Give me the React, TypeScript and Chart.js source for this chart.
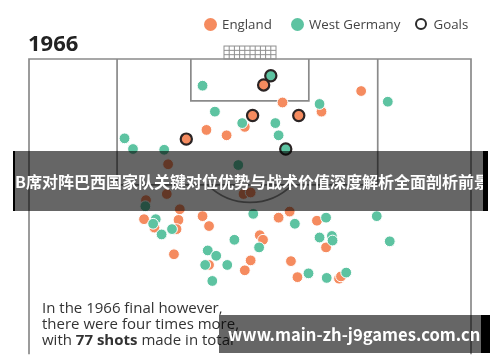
import React, { useEffect, useRef } from "react";
import { Chart, registerables } from "chart.js";

Chart.register(...registerables);

// Pitch coordinates in metres: x across the pitch (0-68), y distance from the goal line.
const PITCH_WIDTH = 68;
const VISIBLE_DEPTH = 38.7;

const englandShots = [
  { x: 33.2, y: 8.9 }, { x: 27.3, y: 9.3 }, { x: 30.4, y: 10.0 }, { x: 51.1, y: 4.2 },
  { x: 39.0, y: 5.7 }, { x: 45.0, y: 6.9 }, { x: 21.4, y: 13.8 }, { x: 21.2, y: 17.7 },
  { x: 33.0, y: 17.7 }, { x: 34.1, y: 17.5 }, { x: 18.0, y: 18.5 }, { x: 23.2, y: 19.7 },
  { x: 26.7, y: 20.6 }, { x: 17.7, y: 21.0 }, { x: 23.0, y: 21.1 }, { x: 19.3, y: 22.1 },
  { x: 27.7, y: 21.9 }, { x: 22.7, y: 22.3 }, { x: 22.3, y: 25.6 }, { x: 27.7, y: 27.0 },
  { x: 33.2, y: 27.7 }, { x: 34.1, y: 26.4 }, { x: 35.5, y: 23.1 }, { x: 36.0, y: 23.7 },
  { x: 38.4, y: 20.8 }, { x: 40.1, y: 20.0 }, { x: 44.3, y: 21.2 }, { x: 45.7, y: 24.7 },
  { x: 40.3, y: 26.5 }, { x: 41.3, y: 28.6 }, { x: 47.7, y: 28.8 }, { x: 48.0, y: 28.5 },
];

const germanyShots = [
  { x: 26.7, y: 3.5 }, { x: 28.6, y: 6.9 }, { x: 32.8, y: 8.4 }, { x: 14.7, y: 10.4 },
  { x: 16.0, y: 11.8 }, { x: 20.8, y: 11.9 }, { x: 55.2, y: 5.6 }, { x: 44.7, y: 5.9 },
  { x: 37.9, y: 8.4 }, { x: 38.4, y: 10.0 }, { x: 32.2, y: 13.9 }, { x: 17.9, y: 19.3 },
  { x: 19.5, y: 21.0 }, { x: 19.1, y: 21.6 }, { x: 20.4, y: 23.0 }, { x: 22.0, y: 22.3 },
  { x: 31.6, y: 23.7 }, { x: 27.5, y: 25.1 }, { x: 28.8, y: 25.8 }, { x: 27.1, y: 27.0 },
  { x: 30.5, y: 27.0 }, { x: 28.2, y: 29.1 }, { x: 34.5, y: 20.3 }, { x: 40.9, y: 21.6 },
  { x: 45.7, y: 20.8 }, { x: 53.5, y: 20.6 }, { x: 55.5, y: 23.9 }, { x: 35.4, y: 24.7 },
  { x: 44.7, y: 23.4 }, { x: 46.6, y: 23.2 }, { x: 46.7, y: 23.8 }, { x: 43.0, y: 28.1 },
  { x: 45.8, y: 28.7 }, { x: 48.8, y: 28.0 },
];

const englandGoals = [
  { x: 36.1, y: 3.4 }, { x: 34.4, y: 7.4 }, { x: 41.5, y: 7.4 }, { x: 24.2, y: 10.5 },
];

const germanyGoals = [
  { x: 37.2, y: 2.2 }, { x: 39.5, y: 11.8 },
];

const legendLabels = ["England", "West Germany", "Goals"];
const titleText = "1966";
const captionLines = ["In the 1966 final however,", "there were four times more,"];
const bannerText = "B席对阵巴西国家队关键对位优势与战术价值深度解析全面剖析前景";
const watermarkText = "www.main-zh-j9games.com.cn";

const ORANGE = "#F58B5F";
const TEAL = "#5DC3A1";
const GOAL_RING = "#2b2424";
const LINE = "#8a8a8a";

// Pitch markings (metres)
const BOX_LEFT = 13.55, BOX_RIGHT = 53.65, BOX_DEPTH = 16.5;
const SIX_LEFT = 24.9, SIX_RIGHT = 43.05, SIX_DEPTH = 5.5;
const GOAL_LEFT = 30, GOAL_RIGHT = 38, NET_DEPTH = -1.7;
const SPOT = 11, ARC_R = 9.15;

const pitchPlugin = {
  id: "pitch",
  beforeDatasetsDraw(chart: any) {
    const { ctx } = chart;
    const xs = chart.scales.x, ys = chart.scales.y;
    const px = (v: number) => xs.getPixelForValue(v);
    const py = (v: number) => ys.getPixelForValue(v);
    ctx.save();
    ctx.strokeStyle = LINE;
    ctx.lineWidth = 1.7;
    ctx.beginPath();
    ctx.moveTo(px(0), py(VISIBLE_DEPTH));
    ctx.lineTo(px(0), py(0));
    ctx.lineTo(px(PITCH_WIDTH), py(0));
    ctx.lineTo(px(PITCH_WIDTH), py(VISIBLE_DEPTH));
    ctx.stroke();

    ctx.beginPath();
    ctx.moveTo(px(BOX_LEFT), py(0));
    ctx.lineTo(px(BOX_LEFT), py(BOX_DEPTH));
    ctx.lineTo(px(BOX_RIGHT), py(BOX_DEPTH));
    ctx.lineTo(px(BOX_RIGHT), py(0));
    ctx.stroke();

    ctx.beginPath();
    ctx.moveTo(px(SIX_LEFT), py(0));
    ctx.lineTo(px(SIX_LEFT), py(SIX_DEPTH));
    ctx.lineTo(px(SIX_RIGHT), py(SIX_DEPTH));
    ctx.lineTo(px(SIX_RIGHT), py(0));
    ctx.stroke();

    const cx = px(PITCH_WIDTH / 2), cy = py(SPOT);
    const r = px(ARC_R) - px(0);
    const dy = py(BOX_DEPTH) - cy;
    if (dy < r) {
      const a = Math.asin(dy / r);
      ctx.beginPath();
      ctx.arc(cx, cy, r, a, Math.PI - a);
      ctx.stroke();
    }

    // goal net
    const gl = px(GOAL_LEFT), gr = px(GOAL_RIGHT), gt = py(NET_DEPTH), gb = py(0);
    ctx.lineWidth = 1;
    ctx.strokeStyle = "#8f8f8f";
    ctx.strokeRect(gl, gt, gr - gl, gb - gt);
    ctx.beginPath();
    const cols = 10, rows = 3;
    for (let i = 1; i < cols; i++) {
      const xx = gl + ((gr - gl) * i) / cols;
      ctx.moveTo(xx, gt);
      ctx.lineTo(xx, gb);
    }
    for (let j = 1; j < rows; j++) {
      const yy = gt + ((gb - gt) * j) / rows;
      ctx.moveTo(gl, yy);
      ctx.lineTo(gr, yy);
    }
    ctx.stroke();
    ctx.restore();
  },
};

const dot = (size: number, color: string, ring?: boolean): React.CSSProperties => ({
  position: "absolute",
  left: 0,
  top: "50%",
  marginTop: -size / 2,
  width: ring ? size - 5 : size,
  height: ring ? size - 5 : size,
  borderRadius: "50%",
  background: color,
  border: ring ? "2.5px solid #2b2b2b" : "none",
});

export default function App() {
  const canvasRef = useRef<HTMLCanvasElement | null>(null);

  useEffect(() => {
    document.body.style.margin = "0";
    const canvas = canvasRef.current;
    if (!canvas) return;
    const chart = new Chart(canvas, {
      type: "scatter",
      data: {
        datasets: [
          {
            label: "England goals",
            data: englandGoals,
            backgroundColor: ORANGE,
            borderColor: GOAL_RING,
            borderWidth: 2.2,
            pointRadius: 5.6,
            order: 0,
          },
          {
            label: "West Germany goals",
            data: germanyGoals,
            backgroundColor: TEAL,
            borderColor: GOAL_RING,
            borderWidth: 2.2,
            pointRadius: 5.6,
            order: 0,
          },
          {
            label: legendLabels[1],
            data: germanyShots,
            backgroundColor: TEAL,
            borderColor: "#ffffff",
            borderWidth: 1,
            pointRadius: 5.4,
            order: 1,
          },
          {
            label: legendLabels[0],
            data: englandShots,
            backgroundColor: ORANGE,
            borderColor: "#ffffff",
            borderWidth: 1,
            pointRadius: 5.4,
            order: 2,
          },
        ],
      },
      options: {
        responsive: false,
        animation: false,
        devicePixelRatio: 1,
        events: [],
        layout: { padding: { left: 29, right: 29, top: 59, bottom: 5 } },
        scales: {
          x: { type: "linear", min: 0, max: PITCH_WIDTH, display: false },
          y: { type: "linear", min: 0, max: VISIBLE_DEPTH, reverse: true, display: false },
        },
        plugins: { legend: { display: false }, tooltip: { enabled: false } },
      },
      plugins: [pitchPlugin],
    } as any);
    return () => chart.destroy();
  }, []);

  const legendItem = (left: number, label: string, color: string, ring?: boolean) => (
    <div
      key={label}
      style={{
        position: "absolute",
        left,
        top: 15,
        height: 18,
        paddingLeft: 18.5,
        lineHeight: "18px",
        fontSize: 13.3,
        color: "#444",
        whiteSpace: "nowrap",
      }}
    >
      <span style={dot(13, color, ring)} />
      {label}
    </div>
  );

  return (
    <div
      style={{
        position: "relative",
        width: 500,
        height: 362,
        overflow: "hidden",
        background: "#fff",
        fontFamily: "'Open Sans', 'Noto Sans', sans-serif",
      }}
    >
      <canvas ref={canvasRef} width={500} height={362} style={{ position: "absolute", left: 0, top: 0 }} />
      <div
        style={{
          position: "absolute",
          left: 28,
          top: 31,
          fontSize: 22,
          lineHeight: "22px",
          fontWeight: 700,
          color: "#222",
        }}
      >
        {titleText}
      </div>
      {legendItem(203.5, legendLabels[0], ORANGE)}
      {legendItem(290.5, legendLabels[1], TEAL)}
      {legendItem(415, legendLabels[2], "transparent", true)}
      <div
        style={{
          position: "absolute",
          left: 42,
          top: 298.7,
          fontSize: 15,
          lineHeight: "16.3px",
          color: "#333",
          whiteSpace: "nowrap",
        }}
      >
        <div>{captionLines[0]}</div>
        <div>{captionLines[1]}</div>
        <div>
          with <b>77 shots</b> made in total
        </div>
      </div>
      <div
        style={{
          position: "absolute",
          left: 13,
          top: 151,
          width: 468,
          height: 60,
          background: "rgba(0,0,0,0.6)",
          borderLeft: "2px solid #000",
          borderRight: "5px solid #000",
          color: "#fff",
          fontFamily: "'Noto Sans CJK SC', sans-serif",
          fontWeight: 700,
          fontSize: 16,
          lineHeight: "60px",
          whiteSpace: "nowrap",
          overflow: "hidden",
        }}
      >
        {bannerText}
      </div>
      <div
        style={{
          position: "absolute",
          left: 219,
          top: 315,
          width: 253,
          height: 38,
          paddingLeft: 9,
          background: "rgba(0,0,0,0.6)",
          borderRight: "9px solid #000",
          color: "#fff",
          fontFamily: "'Noto Sans CJK SC', sans-serif",
          fontWeight: 700,
          fontSize: 16.6,
          lineHeight: "38px",
          whiteSpace: "nowrap",
          overflow: "hidden",
          boxSizing: "content-box",
        }}
      >
        {watermarkText}
      </div>
    </div>
  );
}
